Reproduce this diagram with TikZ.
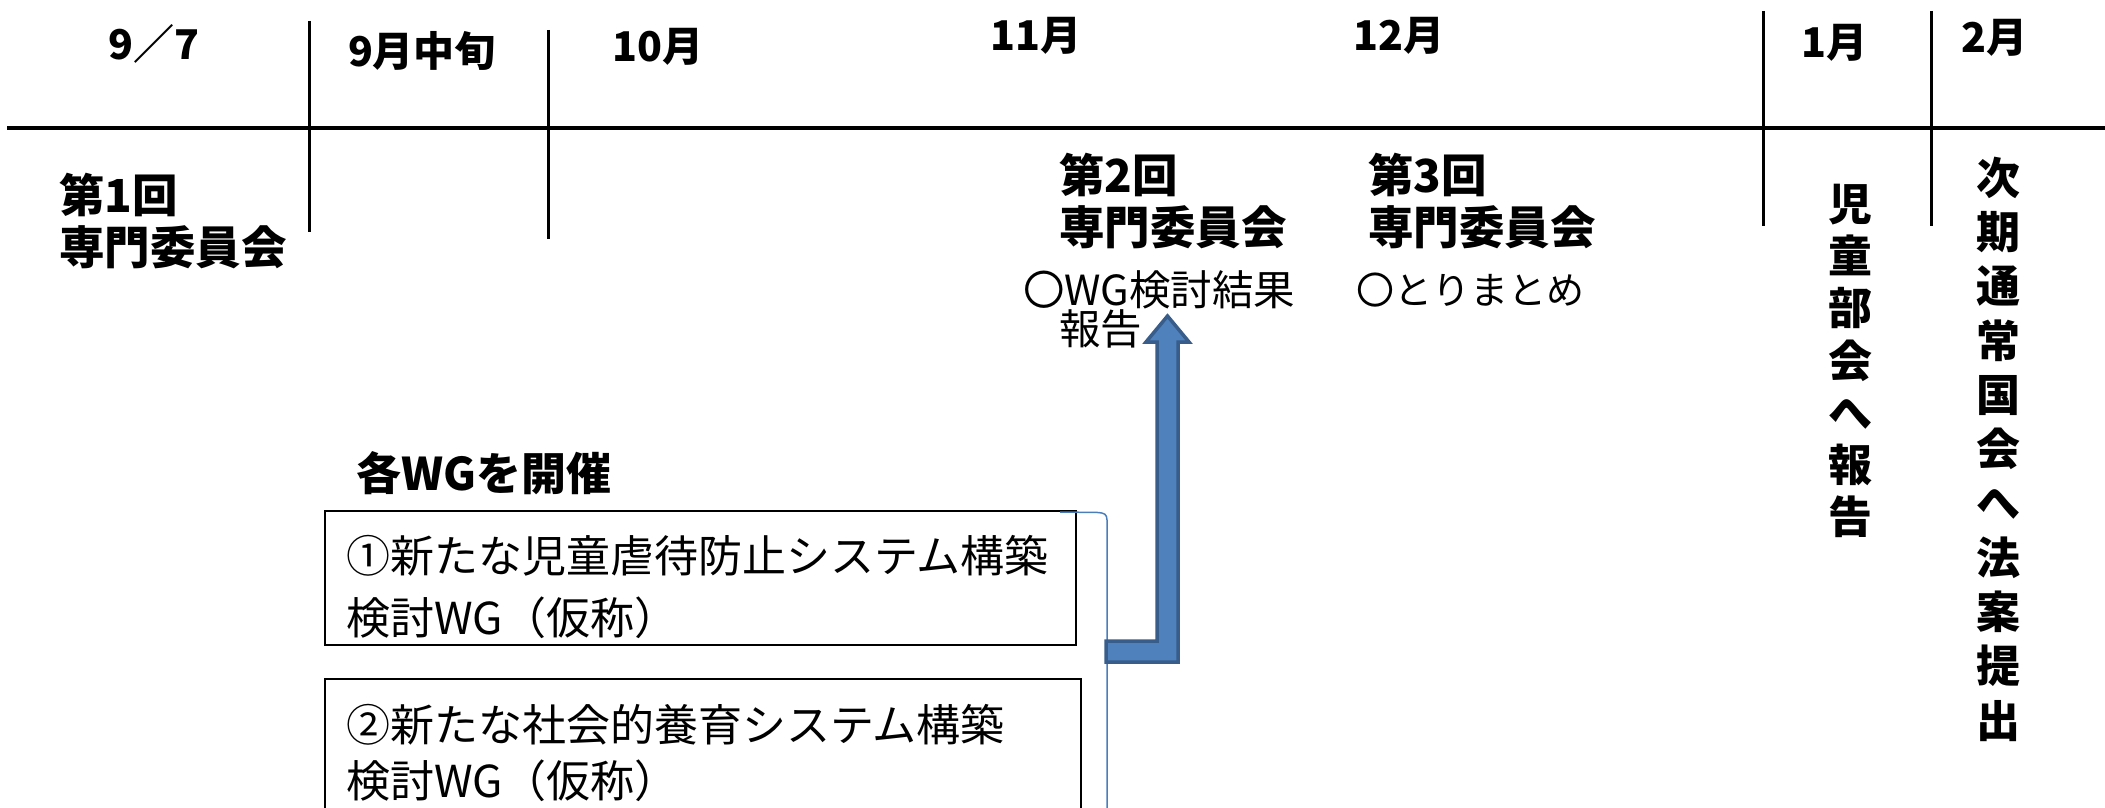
\documentclass[tikz,border=0pt]{standalone}
\usepackage{fontspec}
\setmainfont{Noto Sans CJK JP}
\definecolor{arrowfill}{HTML}{4F81BD}
\definecolor{arrowline}{HTML}{385D8A}
\definecolor{thinblue}{HTML}{4A7EBB}
\tikzset{
  hdr/.style={inner sep=0pt, font=\bfseries\fontsize{41}{44}\selectfont},
  meet/.style={inner sep=0pt, anchor=west, align=left, font=\bfseries\fontsize{45.5}{52}\selectfont},
  note/.style={inner sep=0pt, anchor=west, font=\fontsize{41.5}{44}\selectfont},
  wgtext/.style={inner sep=0pt, anchor=west, font=\fontsize{44}{48}\selectfont},
  vtext/.style={inner sep=0pt, align=center, font=\bfseries\fontsize{44}{#1}\selectfont},
  rule/.style={line width=3pt, black},
  wgbox/.style={draw=black, line width=2.5pt},
}
\begin{document}
\begin{tikzpicture}[x=1pt,y=-1pt]
\useasboundingbox (0,0) rectangle (2105,808);
\begin{scope}
\clip (0,0) rectangle (2105,808);
% header rules
\draw[line width=4pt] (7,127.5) -- (2105,127.5);
\draw[rule] (309,21) -- (309,232);
\draw[rule] (548,30) -- (548,239);
\draw[rule] (1763,11) -- (1763,226);
\draw[rule] (1931,11) -- (1931,226);
% header labels
\node[hdr] (h1) at (154,44) {9／7};
\node[hdr] (h2) at (422,51) {9月中旬};
\node[hdr] (h3) at (658,47) {10月};
\node[hdr] (h4) at (1036,36) {11月};
\node[hdr] (h5) at (1399,36) {12月};
\node[hdr] (h6) at (1834,43) {1月};
\node[hdr] (h7) at (1994,38) {2月};
% meetings
\node[meet] (m1) at (59,221) {第1回\\専門委員会};
\node[meet] (m2) at (1059,201) {第2回\\専門委員会};
\node[meet] (m3) at (1368,201) {第3回\\専門委員会};
\node[note] (n2a) at (1023,290) {〇WG検討結果};
\node[note] (n2b) at (1059,329) {報告};
\node[note, font=\fontsize{38}{42}\selectfont] (n3) at (1356,290) {〇とりまとめ};
% vertical texts
\node[vtext=52.3] (v1) at (1850,361) {児\\童\\部\\会\\へ\\報\\告};
\node[vtext=54.3] (v2) at (1998,449) {次\\期\\通\\常\\国\\会\\へ\\法\\案\\提\\出};
% WGs
\node[inner sep=0pt, anchor=west, font=\bfseries\fontsize{45}{48}\selectfont] (wgt) at (356,473) {各WGを開催};
\draw[wgbox] (325,511) rectangle (1076,645);
\node[wgtext] (w1a) at (346,556) {①新たな児童虐待防止システム構築};
\node[wgtext] (w1b) at (346,618) {検討WG（仮称）};
\draw[wgbox] (325,679) rectangle (1081,840);
\node[wgtext] (w2a) at (346,725) {②新たな社会的養育システム構築};
\node[wgtext] (w2b) at (346,781) {検討WG（仮称）};
% bracket line
\coordinate (bs) at (1060,512);
\coordinate (be) at (1107,820);
\draw[thinblue, line width=1.5pt] (bs) -- (1098,512.5) .. controls (1104,513) and (1107,514) .. (1107,520) -- (be);
% block arrow
\draw[arrowline, fill=arrowfill, line width=3.5pt, line join=miter]
  (1106,641) -- (1157,641) -- (1157,342) -- (1146,342) -- (1167.5,316)
  -- (1189,342) -- (1178,342) -- (1178,662) -- (1106,662) -- cycle;
\end{scope}
\end{tikzpicture}
\end{document}
